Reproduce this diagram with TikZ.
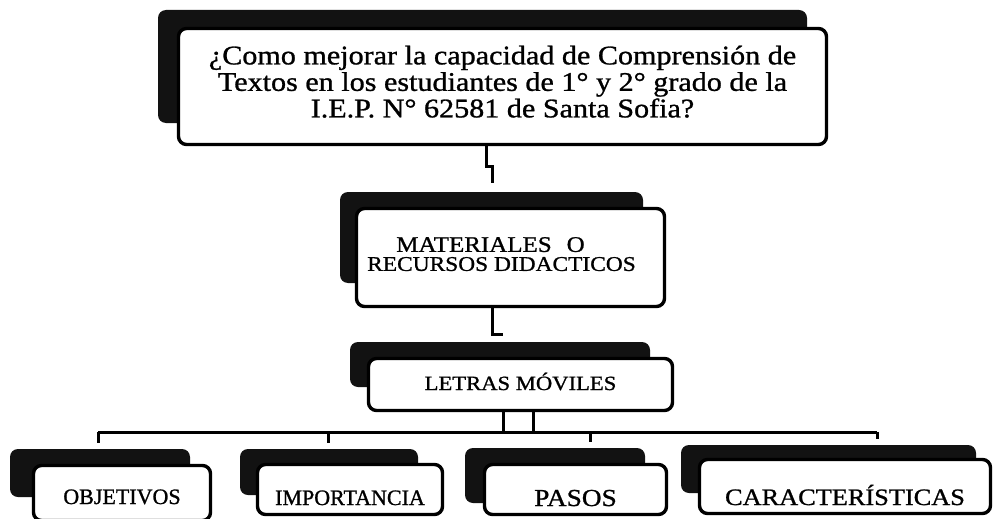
\documentclass[tikz,border=0pt]{standalone}
\usepackage{fontspec}
\setmainfont[FakeBold=1]{Liberation Serif}
\newfontfamily\widefont[FakeStretch=1.12,FakeBold=1]{Liberation Serif}
\begin{document}
\begin{tikzpicture}[x=1pt,y=-1pt,
  shadowbox/.style={fill=black!93, draw=none, rounded corners=8pt, inner sep=0pt},
  whitebox/.style={fill=white, draw=black, line width=3.4pt, rounded corners=8pt, inner sep=0pt, align=center},
  conn/.style={draw=black, line width=3pt}]
\useasboundingbox (0,0) rectangle (993,519);
\clip (0,0) rectangle (993,519);
\fill[white] (0,0) rectangle (993,519);

% top question box
\node[shadowbox, minimum width=649pt, minimum height=113pt] (topS) at (482.5,66.5) {};
\node[whitebox, minimum width=648pt, minimum height=116pt,
      font=\widefont\fontsize{26.9}{26.5}\selectfont] (top) at (502.5,86.5)
  {¿Como mejorar la capacidad de Comprensión de\\Textos en los estudiantes de 1° y 2° grado de la\\I.E.P. N° 62581 de Santa Sofia?\rule[-10pt]{0pt}{0pt}};

% materiales
\node[shadowbox, minimum width=303pt, minimum height=91pt] (matS) at (491.5,237.5) {};
\node[whitebox, minimum width=308pt, minimum height=98pt,
      font=\widefont\fontsize{20.9}{19}\selectfont] (mat) at (510.5,257.5)
  {{\fontsize{22.3}{19}\selectfont MATERIALES\hspace{15pt}O}\rule{40pt}{0pt}\\RECURSOS DIDACTICOS\rule[-7pt]{18pt}{0pt}};

% letras moviles
\node[shadowbox, minimum width=300pt, minimum height=45pt] (letS) at (500,364.5) {};
\node[whitebox, minimum width=304pt, minimum height=52pt, text height=11pt, text depth=0pt,
      font=\widefont\fontsize{20.2}{20.2}\selectfont] (let) at (520.5,384.5) {LETRAS MÓVILES};

% bottom row
\node[shadowbox, minimum width=180pt, minimum height=48pt] (objS) at (100,473) {};
\node[whitebox, minimum width=177pt, minimum height=55pt, text height=22pt, text depth=0pt,
      font=\fontsize{22}{22}\selectfont] (obj) at (122,493) {OBJETIVOS};

\node[shadowbox, minimum width=178pt, minimum height=46pt] (impS) at (329,472) {};
\node[whitebox, minimum width=185pt, minimum height=50pt, text height=31pt, text depth=0pt,
      font=\fontsize{22}{22}\selectfont] (imp) at (350,489.5) {IMPORTANCIA};

\node[shadowbox, minimum width=180pt, minimum height=55pt] (pasS) at (555,475.5) {};
\node[whitebox, minimum width=182pt, minimum height=50pt, text height=33pt, text depth=0pt,
      font=\widefont\fontsize{24.4}{24.4}\selectfont] (pas) at (575.5,489.5) {PASOS};

\node[shadowbox, minimum width=295pt, minimum height=48pt] (carS) at (828.5,469) {};
\node[whitebox, minimum width=291pt, minimum height=54pt, text height=37pt, text depth=0pt,
      font=\widefont\fontsize{23.5}{23.5}\selectfont] (car) at (845,486.5) {CARACTERÍSTICAS};

% connectors
\coordinate (j1) at (492,166);
\coordinate (e1) at (492,183);
\draw[conn] ([xshift=-16.5pt]top.south) |- (j1) -- (e1);

\coordinate (e2) at (503,334);
\draw[conn] ([xshift=-18.5pt]mat.south) |- (e2);

\coordinate (hL) at (98,432);
\coordinate (hR) at (877,432);
\draw[conn] (hL) -- (hR);
\draw[conn] ([xshift=-17.5pt]let.south) -- ([xshift=-17.5pt]let.south |- hL);
\draw[conn] ([xshift=12.5pt]let.south) -- ([xshift=12.5pt]let.south |- hL);

\coordinate (t1) at (98,443);
\coordinate (t2) at (328,443);
\coordinate (t3) at (590,442);
\coordinate (t4) at (877,439);
\draw[conn] (hL) -- (t1);
\draw[conn] (t2 |- hL) -- (t2);
\draw[conn] (t3 |- hL) -- (t3);
\draw[conn] (hR) -- (t4);
\end{tikzpicture}
\end{document}
